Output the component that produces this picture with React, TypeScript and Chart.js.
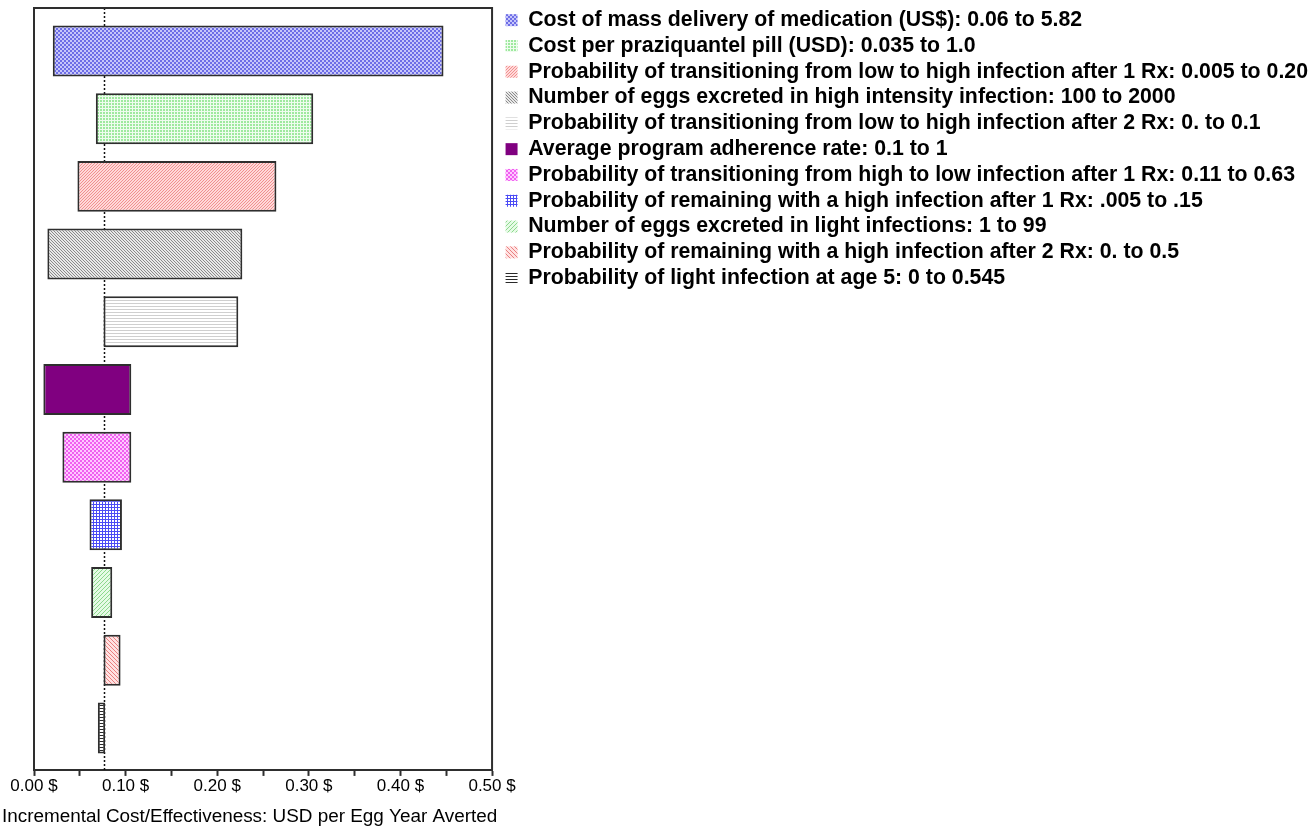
import React, { useEffect, useRef } from 'react';
import { Chart, registerables } from 'chart.js';

Chart.register(...registerables);

// ---------- data ----------
const parameterLabels: string[] = [
  'Cost of mass delivery of medication (US$): 0.06 to 5.82',
  'Cost per praziquantel pill (USD): 0.035 to 1.0',
  'Probability of transitioning from low to high infection after 1 Rx: 0.005 to 0.20',
  'Number of eggs excreted in high intensity infection: 100 to 2000',
  'Probability of transitioning from low to high infection after 2 Rx: 0. to 0.1',
  'Average program adherence rate: 0.1 to 1',
  'Probability of transitioning from high to low infection after 1 Rx: 0.11 to 0.63',
  'Probability of remaining with a high infection after 1 Rx: .005 to .15',
  'Number of eggs excreted in light infections: 1 to 99',
  'Probability of remaining with a high infection after 2 Rx: 0. to 0.5',
  'Probability of light infection at age 5: 0 to 0.545',
];
const lowValues: number[] = [0.0205, 0.0675, 0.0474, 0.0146, 0.0759, 0.0102, 0.031, 0.0606, 0.0624, 0.0759, 0.0697];
const highValues: number[] = [0.447, 0.3048, 0.2646, 0.2274, 0.223, 0.1062, 0.1062, 0.096, 0.0854, 0.0945, 0.0777];
const baseCaseValue = 0.076;
const xMin = 0;
const xMax = 0.5;
const xStep = 0.05;
const axisTitle = 'Incremental Cost/Effectiveness: USD per Egg Year Averted';

// ---------- pattern helpers ----------
type PatternSpec =
  | { kind: 'checker'; a: string; b: string; cell: number }
  | { kind: 'grid'; bg: string; line: string; step: number }
  | { kind: 'diag'; bg: string; line: string; step: number; dir: 1 | -1 }
  | { kind: 'horiz'; bg: string; line: string; step: number }
  | { kind: 'solid'; color: string };

const patternSpecs: PatternSpec[] = [
  { kind: 'checker', a: '#6d6de6', b: '#c6c6fa', cell: 2 },
  { kind: 'grid', bg: '#9ee99e', line: '#eefcee', step: 3 },
  { kind: 'diag', bg: '#ffd9d9', line: '#f09090', step: 3, dir: 1 },
  { kind: 'diag', bg: '#e8e8e8', line: '#8a8a8a', step: 3, dir: -1 },
  { kind: 'horiz', bg: '#ffffff', line: '#cfcfcf', step: 3 },
  { kind: 'solid', color: '#800080' },
  { kind: 'checker', a: '#f060f0', b: '#ffc8ff', cell: 2 },
  { kind: 'grid', bg: '#ffffff', line: '#4b4bf5', step: 3 },
  { kind: 'diag', bg: '#e6fbe6', line: '#8ed88e', step: 4, dir: 1 },
  { kind: 'diag', bg: '#ffe2e2', line: '#e98080', step: 4, dir: -1 },
  { kind: 'horiz', bg: '#ffffff', line: '#2a2a2a', step: 3 },
];

function makePattern(ctx: CanvasRenderingContext2D, spec: PatternSpec): CanvasPattern | string {
  if (spec.kind === 'solid') return spec.color;
  const c = document.createElement('canvas');
  const g = c.getContext('2d') as CanvasRenderingContext2D;
  if (spec.kind === 'checker') {
    const s = spec.cell * 2;
    c.width = s; c.height = s;
    g.fillStyle = spec.b; g.fillRect(0, 0, s, s);
    g.fillStyle = spec.a;
    g.fillRect(0, 0, spec.cell, spec.cell);
    g.fillRect(spec.cell, spec.cell, spec.cell, spec.cell);
  } else if (spec.kind === 'grid') {
    c.width = spec.step; c.height = spec.step;
    g.fillStyle = spec.bg; g.fillRect(0, 0, spec.step, spec.step);
    g.fillStyle = spec.line;
    g.fillRect(0, 0, spec.step, 1);
    g.fillRect(0, 0, 1, spec.step);
  } else if (spec.kind === 'horiz') {
    c.width = spec.step; c.height = spec.step;
    g.fillStyle = spec.bg; g.fillRect(0, 0, spec.step, spec.step);
    g.fillStyle = spec.line;
    g.fillRect(0, 0, spec.step, 1);
  } else if (spec.kind === 'diag') {
    const s = spec.step;
    c.width = s; c.height = s;
    g.fillStyle = spec.bg; g.fillRect(0, 0, s, s);
    g.fillStyle = spec.line;
    for (let i = 0; i < s; i++) {
      const x = spec.dir === 1 ? s - 1 - i : i;
      g.fillRect(x, i, 1, 1);
    }
  }
  return ctx.createPattern(c, 'repeat') as CanvasPattern;
}

const frameColor = '#2e2e2e';

const framePlugin = {
  id: 'frameAndBase',
  beforeDatasetsDraw(chart: any) {
    const { ctx, chartArea, scales } = chart;
    const x = Math.round(scales.x.getPixelForValue(baseCaseValue)) + 0.5;
    ctx.save();
    ctx.strokeStyle = '#111';
    ctx.lineWidth = 1.5;
    ctx.setLineDash([2, 2]);
    ctx.beginPath();
    ctx.moveTo(x, chartArea.top);
    ctx.lineTo(x, chartArea.bottom);
    ctx.stroke();
    ctx.restore();
  },
  afterDatasetsDraw(chart: any) {
    const { ctx, chartArea } = chart;
    ctx.save();
    ctx.strokeStyle = frameColor;
    ctx.lineWidth = 2;
    ctx.beginPath();
    ctx.moveTo(chartArea.left, chartArea.bottom);
    ctx.lineTo(chartArea.left, chartArea.top);
    ctx.lineTo(chartArea.right, chartArea.top);
    ctx.lineTo(chartArea.right, chartArea.bottom);
    ctx.stroke();
    ctx.restore();
  },
};

// small offset of the legend block relative to its layout slot
const legendShiftX = 9;
const legendShiftY = -3;
const legendNudge = {
  id: 'legendNudge',
  afterLayout(chart: any) {
    const lg = chart.legend;
    if (lg) {
      lg.top += legendShiftY;
      lg.bottom += legendShiftY;
      lg.left += legendShiftX;
      lg.right += legendShiftX;
    }
  },
};

const sans = "'Liberation Sans', Arial, sans-serif";

export default function App() {
  const canvasRef = useRef<HTMLCanvasElement | null>(null);

  useEffect(() => {
    const canvas = canvasRef.current;
    if (!canvas) return;
    const ctx = canvas.getContext('2d') as CanvasRenderingContext2D;
    const fills = patternSpecs.map((s) => makePattern(ctx, s));

    const datasets = parameterLabels.map((label, i) => ({
      label,
      data: [{ x: [lowValues[i], highValues[i]], y: i }],
      backgroundColor: fills[i],
      borderColor: frameColor,
      borderWidth: 2,
      borderSkipped: false,
      grouped: false,
      barPercentage: 0.753,
      categoryPercentage: 1,
    }));

    const chart = new Chart(canvas, {
      type: 'bar',
      data: { datasets: datasets as any },
      plugins: [framePlugin, legendNudge],
      options: {
        responsive: false,
        animation: false,
        indexAxis: 'y',
        layout: { padding: { top: 8, left: 2, right: 7, bottom: 0 } },
        scales: {
          y: {
            type: 'linear',
            reverse: true,
            offset: false,
            min: -0.635,
            max: 10.62,
            display: true,
            border: { display: false },
            grid: { display: false, drawTicks: false },
            ticks: { display: false, stepSize: 1, includeBounds: false },
            afterFit: (scale: any) => {
              scale.width = 32;
            },
          },
          x: {
            type: 'linear',
            min: xMin,
            max: xMax,
            border: { display: true, color: frameColor, width: 2 },
            grid: {
              display: true,
              drawOnChartArea: false,
              drawTicks: true,
              tickLength: 6,
              tickColor: frameColor,
              tickWidth: 2,
            },
            ticks: {
              stepSize: xStep,
              autoSkip: false,
              maxRotation: 0,
              color: '#000',
              padding: 0,
              font: { family: sans, size: 17 },
              callback: (value: any, index: number) => (index % 2 === 0 ? Number(value).toFixed(2) + ' $' : ''),
            },
            title: { display: false },
          },
        },
        plugins: {
          tooltip: { enabled: false },
          title: {
            display: true,
            position: 'bottom',
            align: 'start',
            text: axisTitle,
            color: '#000',
            font: { family: sans, size: 18.9, weight: 'normal' },
            padding: { top: 9, bottom: 10 },
          },
          legend: {
            position: 'right',
            align: 'start',
            maxWidth: 900,
            labels: {
              boxWidth: 12,
              boxHeight: 12,
              padding: 4.5,
              color: '#000',
              font: { family: sans, size: 21.3, weight: 'bold' },
              generateLabels: (ch: any) =>
                ch.data.datasets.map((ds: any, i: number) => ({
                  text: ds.label,
                  fillStyle: ds.backgroundColor,
                  strokeStyle: 'rgba(0,0,0,0)',
                  lineWidth: 0,
                  hidden: false,
                  datasetIndex: i,
                })),
            },
          },
        },
      } as any,
    });

    return () => chart.destroy();
  }, []);

  return (
    <div style={{ position: 'fixed', left: 0, top: 0, width: 1316, height: 838, background: '#fff' }}>
      <canvas ref={canvasRef} width={1316} height={838} />
    </div>
  );
}
